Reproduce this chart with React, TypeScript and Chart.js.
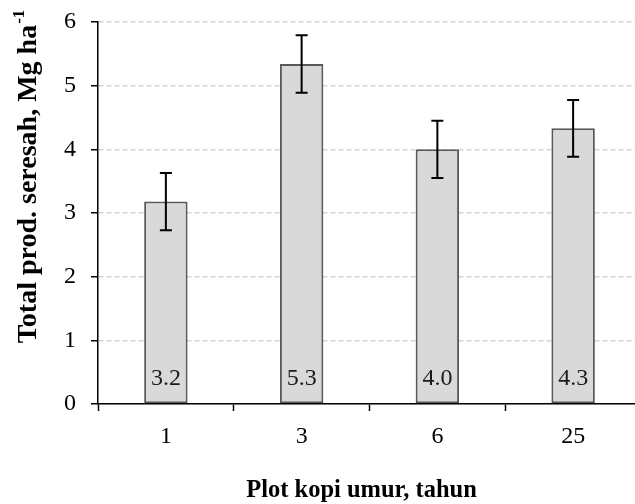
import React, { useEffect, useRef } from "react";
import { Chart, registerables } from "chart.js";

Chart.register(...registerables);

const categories = ["1", "3", "6", "25"];
const means = [3.18, 5.34, 4.0, 4.33];
const errors = [0.45, 0.45, 0.45, 0.445];
const barLabels = ["3.2", "5.3", "4.0", "4.3"];
const yTitle = "Total prod. seresah, Mg ha";
const yTitleSup = "-1";
const xTitle = "Plot kopi umur, tahun";

const FONT = '"Liberation Serif", "Times New Roman", serif';

const overlayPlugin = {
  id: "overlay",
  afterDatasetsDraw(chart: any) {
    const ctx = chart.ctx;
    const xs = chart.scales.x;
    const ys = chart.scales.y;
    ctx.save();
    // error bars
    ctx.strokeStyle = "#000";
    ctx.lineWidth = 2;
    means.forEach((m, i) => {
      const x = xs.getPixelForValue(i);
      const yT = ys.getPixelForValue(m + errors[i]);
      const yB = ys.getPixelForValue(m - errors[i]);
      ctx.beginPath();
      ctx.moveTo(x, yT);
      ctx.lineTo(x, yB);
      ctx.moveTo(x - 6, yT);
      ctx.lineTo(x + 6, yT);
      ctx.moveTo(x - 6, yB);
      ctx.lineTo(x + 6, yB);
      ctx.stroke();
    });
    // bar value labels
    ctx.fillStyle = "#1a1a1a";
    ctx.font = `24px ${FONT}`;
    ctx.textAlign = "center";
    ctx.textBaseline = "middle";
    barLabels.forEach((t, i) => {
      const x = xs.getPixelForValue(i);
      ctx.fillText(t, x, ys.getPixelForValue(0) - 25);
    });
    // x title
    ctx.fillStyle = "#000";
    ctx.font = `bold 24.5px ${FONT}`;
    ctx.textAlign = "center";
    ctx.textBaseline = "middle";
    ctx.fillText(xTitle, 361.5, 491);
    // y title with superscript
    ctx.translate(27, 177);
    ctx.rotate(-Math.PI / 2);
    ctx.font = `bold 28px ${FONT}`;
    const w1 = ctx.measureText(yTitle).width;
    ctx.font = `bold 17px ${FONT}`;
    const w2 = ctx.measureText(yTitleSup).width;
    const start = -(w1 + w2) / 2;
    ctx.textAlign = "left";
    ctx.textBaseline = "alphabetic";
    ctx.font = `bold 28px ${FONT}`;
    ctx.fillText(yTitle, start, 9);
    ctx.font = `bold 17px ${FONT}`;
    ctx.fillText(yTitleSup, start + w1 + 1, -3);
    ctx.restore();
  },
};

export default function App() {
  const ref = useRef<HTMLCanvasElement>(null);
  useEffect(() => {
    if (!ref.current) return;
    const chart = new Chart(ref.current, {
      type: "bar",
      data: {
        labels: categories,
        datasets: [
          {
            data: means,
            backgroundColor: "#d9d9d9",
            borderColor: "#595959",
            borderWidth: 2,
            borderSkipped: false,
            categoryPercentage: 1,
            barPercentage: 0.32,
          },
        ],
      },
      options: {
        responsive: false,
        animation: false,
        layout: { padding: { top: 22, right: 19, left: 0, bottom: 0 } },
        plugins: {
          legend: { display: false },
          tooltip: { enabled: false },
        },
        scales: {
          x: {
            afterFit: (s: any) => {
              s.height = 100;
              s.paddingLeft = 0;
              s.paddingRight = 0;
            },
            grid: {
              display: true,
              drawOnChartArea: false,
              drawTicks: true,
              tickLength: 7,
              tickColor: "#000",
              tickWidth: 1.5,
              offset: true,
            },
            border: { display: true, color: "#000", width: 1.5 },
            ticks: {
              color: "#000",
              font: { family: FONT, size: 24 },
              padding: 11,
            },
          },
          y: {
            min: 0,
            max: 6,
            afterFit: (s: any) => {
              s.width = 98;
              s.paddingTop = 0;
              s.paddingBottom = 0;
            },
            grid: {
              color: "#d4d4d4",
              lineWidth: 1.5,
              drawTicks: true,
              tickLength: 7,
              tickColor: "#000",
              tickWidth: 1.5,
              tickBorderDash: [],
            },
            border: { display: true, color: "#000", width: 1.5, dash: [5, 3] },
            ticks: {
              stepSize: 1,
              color: "#000",
              font: { family: FONT, size: 24 },
              padding: 15,
            },
          },
        },
      },
      plugins: [overlayPlugin],
    });
    return () => chart.destroy();
  }, []);
  return (
    <div
      style={{
        position: "fixed",
        left: 0,
        top: 0,
        width: 635,
        height: 504,
        overflow: "hidden",
        background: "#fff",
      }}
    >
      <canvas ref={ref} width={660} height={504} style={{ display: "block" }} />
    </div>
  );
}
